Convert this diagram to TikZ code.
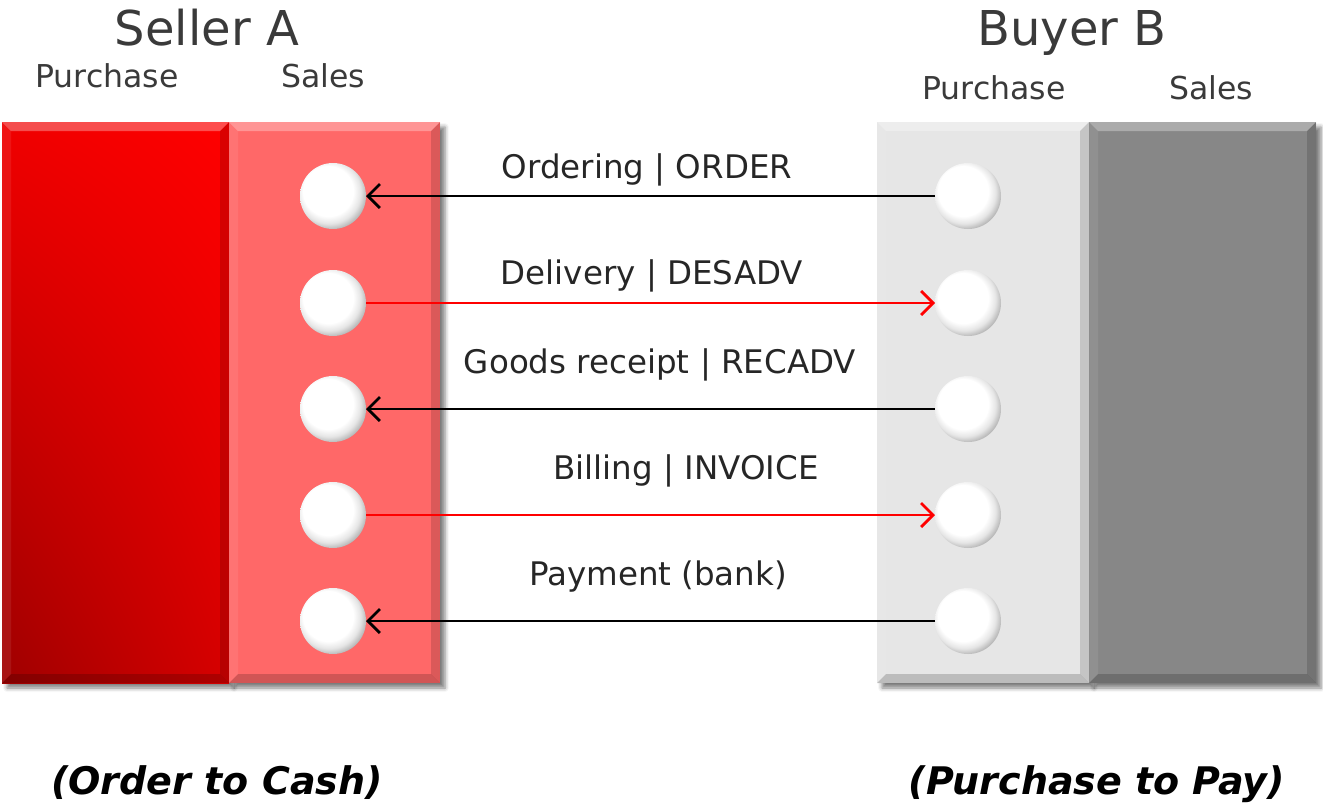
\documentclass[tikz,border=0pt]{standalone}
\usepackage{fontspec}
\setmainfont{DejaVu Sans}
\usetikzlibrary{arrows.meta,shadows.blur,shadings}
\pgfdeclareradialshading{sphereball}{\pgfpoint{-6bp}{6bp}}{%
  color(0bp)=(white); color(19bp)=(white); color(24bp)=(black!10);
  color(29bp)=(black!32); color(33bp)=(black!55); color(36bp)=(black!62); color(50bp)=(black!62)}
\definecolor{redA}{HTML}{FF0000}
\definecolor{redSales}{HTML}{FF6868}
\definecolor{greyP}{HTML}{E6E6E6}
\definecolor{greyS}{HTML}{878787}
\definecolor{txt}{HTML}{3A3A3A}
\tikzset{
  block/.style={rectangle, minimum height=561pt, inner sep=0pt, outer sep=0pt,
    blur shadow={shadow xshift=5pt, shadow yshift=-5pt, shadow blur radius=4pt, shadow opacity=50}},
  ball/.style={circle, minimum size=66pt, inner sep=0pt, shade, shading=sphereball, outer sep=0pt},
  title/.style={text=txt, anchor=base, font=\fontsize{48}{56}\selectfont},
  sub/.style={text=txt, anchor=base, font=\fontsize{31.5}{38}\selectfont},
  lbl/.style={text=black!85, anchor=base, font=\fontsize{32.5}{39}\selectfont},
  foot/.style={text=black, anchor=base, font=\fontsize{38}{45}\selectfont\bfseries\itshape},
  msgback/.style={draw=black, line width=2.2pt, -{Straight Barb[length=12pt,width=24pt,line width=2.8pt]}},
  msgfwd/.style={draw=red, line width=2.2pt, -{Straight Barb[length=12pt,width=24pt,line width=2.8pt]}},
}
\begin{document}
\begin{tikzpicture}[x=1pt,y=-1pt]
\useasboundingbox (0,0) rectangle (1323,807);
% blocks
\node[block, minimum width=227pt, upper left=red!94!black, upper right=redA, lower left=red!62!black, lower right=red!84!black] (sp) at (115.5,402.5) {};
\node[block, minimum width=211pt, fill=redSales] (ss) at (334.5,402.5) {};
\node[block, minimum width=212pt, fill=greyP] (bp) at (983,402.5) {};
\node[block, minimum width=227pt, fill=greyS] (bs) at (1202.5,402.5) {};
% bevels
\foreach \n in {sp,ss,bp,bs}{
  \fill[white, opacity=0.30] (\n.north west) -- (\n.north east) -- ([xshift=-9pt,yshift=-9pt]\n.north east) -- ([xshift=9pt,yshift=-9pt]\n.north west) -- cycle;
  \fill[black, opacity=0.18] (\n.south west) -- (\n.south east) -- ([xshift=-9pt,yshift=9pt]\n.south east) -- ([xshift=9pt,yshift=9pt]\n.south west) -- cycle;
  \fill[black, opacity=0.14] (\n.north east) -- (\n.south east) -- ([xshift=-9pt,yshift=9pt]\n.south east) -- ([xshift=-9pt,yshift=-9pt]\n.north east) -- cycle;
  \fill[white, opacity=0.08] (\n.north west) -- (\n.south west) -- ([xshift=9pt,yshift=9pt]\n.south west) -- ([xshift=9pt,yshift=-9pt]\n.north west) -- cycle;
}
% titles
\node[title] (tA) at (207,45) {Seller A};
\node[title] (tB) at (1072,45) {Buyer B};
\node[sub] (sA1) at (107,87) {Purchase};
\node[sub] (sA2) at (323,87) {Sales};
\node[sub] (sB1) at (994,99) {Purchase};
\node[sub] (sB2) at (1211,99) {Sales};
% balls
\foreach \i/\y in {1/196,2/303,3/409,4/515,5/621}{
  \node[ball] (L\i) at (333,\y) {};
  \node[ball] (R\i) at (968,\y) {};
}
% messages
\draw[msgback] (R1) -- (L1);
\draw[msgfwd] (L2) -- (R2);
\draw[msgback] (R3) -- (L3);
\draw[msgfwd] (L4) -- (R4);
\draw[msgback] (R5) -- (L5);
\node[lbl] (m1) at (647,178) {Ordering | ORDER};
\node[lbl] (m2) at (652,284) {Delivery | DESADV};
\node[lbl] (m3) at (660,373) {Goods receipt | RECADV};
\node[lbl] (m4) at (686,479) {Billing | INVOICE};
\node[lbl] (m5) at (658,585) {Payment (bank)};
% footers
\node[foot] (f1) at (217,794) {(Order to Cash)};
\node[foot] (f2) at (1097,794) {(Purchase to Pay)};
\end{tikzpicture}
\end{document}
